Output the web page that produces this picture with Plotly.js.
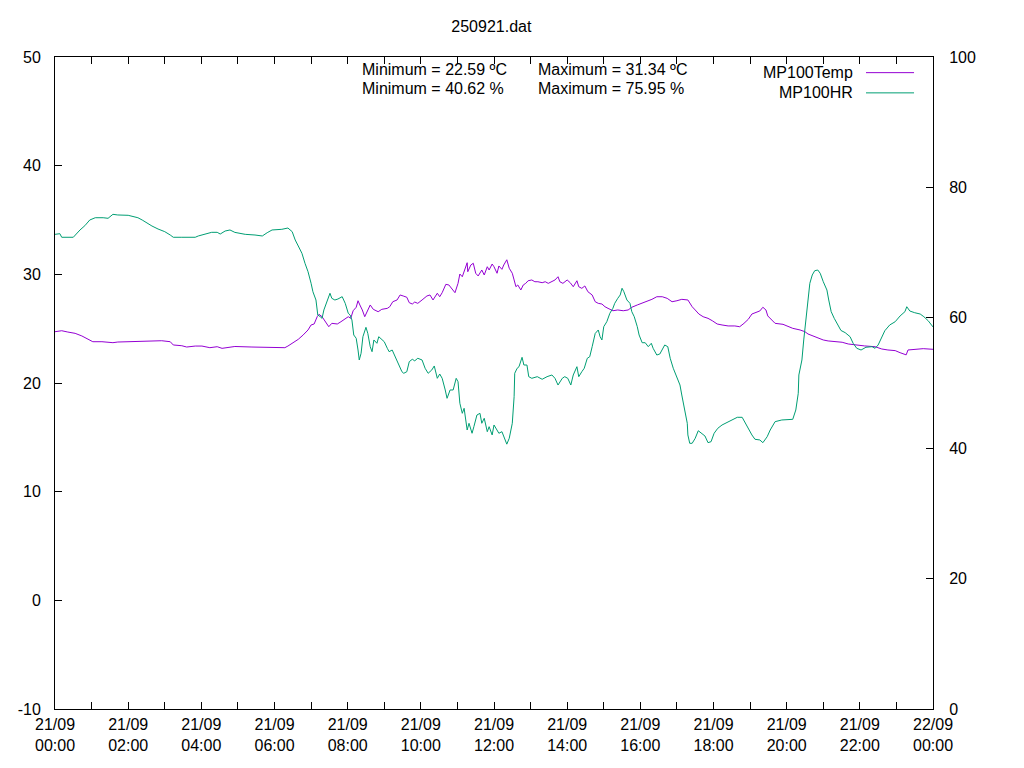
<!DOCTYPE html>
<html>
<head>
<meta charset="utf-8">
<script src="https://cdn.plot.ly/plotly-3.0.1.min.js"></script>
<style>html,body{margin:0;padding:0;background:#fff;}#chart{width:1024px;height:768px;}</style>
</head>
<body>
<div id="chart"></div>
<script>
// ---- data (minutes after 2025-09-21 00:00) ----
const chartTitle = "250921.dat";
const seriesNames = ["MP100Temp", "MP100HR"];
const statsLines = [
  ["Minimum = 22.59 \u00baC", "Maximum = 31.34 \u00baC"],
  ["Minimum = 40.62 %", "Maximum = 75.95 %"]
];

const tempMinutes = [0,11,21,33,44,54,62,77,95,103,143,161,175,189,194,208,216,230,241,254,266,274,284,295,323,349,377,382,390,399,407,415,420,425,430,433,438,443,449,454,463,469,476,481,485,489,494,497,500,504,508,513,517,522,530,536,545,549,554,561,566,571,577,581,586,590,595,602,610,615,620,627,631,635,641,646,651,656,661,664,668,672,676,677,682,686,690,694,700,704,709,712,717,720,725,728,733,736,741,745,750,753,756,759,764,768,772,776,782,787,792,799,804,809,815,820,825,828,833,840,845,850,856,859,864,869,874,881,886,891,897,902,907,915,923,932,940,946,955,963,971,979,987,996,1004,1012,1020,1028,1038,1045,1050,1056,1063,1071,1078,1086,1094,1104,1115,1123,1130,1137,1143,1151,1156,1161,1166,1169,1176,1181,1194,1202,1210,1222,1230,1235,1243,1251,1260,1268,1279,1291,1301,1312,1328,1345,1356,1366,1378,1386,1392,1396,1399,1410,1424,1440];
const tempValues = [24.72,24.81,24.69,24.57,24.33,24.05,23.80,23.80,23.71,23.77,23.84,23.93,23.89,23.80,23.50,23.43,23.31,23.40,23.40,23.25,23.34,23.19,23.28,23.36,23.31,23.25,23.25,23.40,23.71,24.02,24.42,24.88,25.34,25.43,26.10,26.32,26.10,25.64,25.18,25.49,25.43,25.64,25.95,26.10,25.95,26.65,26.97,27.57,27.18,26.72,26.10,26.72,27.18,26.78,26.56,26.78,26.87,27.02,27.48,27.64,28.10,28.01,27.89,27.39,27.27,27.45,27.33,27.64,28.01,28.10,27.64,28.26,27.94,28.31,29.08,29.02,28.71,28.31,29.17,30.03,29.78,30.40,31.07,30.24,30.86,31.02,30.10,29.85,30.40,29.94,30.70,30.40,30.95,30.70,30.10,30.77,30.46,30.86,31.34,30.56,30.10,29.48,28.86,29.02,28.56,29.02,29.17,29.41,29.48,29.32,29.32,29.23,29.32,29.17,29.32,29.48,29.78,29.32,29.17,29.48,29.23,28.86,29.41,28.86,28.71,28.93,28.40,28.10,27.48,27.33,27.27,27.02,26.87,26.65,26.72,26.65,26.72,26.97,27.18,27.33,27.48,27.70,27.94,27.94,27.79,27.48,27.57,27.70,27.64,27.02,26.72,26.35,26.10,25.95,25.73,25.43,25.34,25.25,25.25,25.18,25.49,25.86,26.35,26.56,26.63,26.97,26.72,26.17,25.80,25.49,25.40,25.25,25.03,24.88,24.72,24.51,24.32,24.11,23.96,23.87,23.80,23.75,23.59,23.50,23.41,23.34,23.13,23.04,22.98,22.79,22.64,22.59,23.04,23.10,23.16,23.10];

const hrMinutes = [0,8,11,30,41,49,57,66,79,87,95,103,120,128,136,143,151,159,169,180,189,194,208,230,235,246,257,266,271,279,287,295,312,328,340,348,356,372,382,389,394,399,405,410,415,420,423,428,431,435,438,441,446,451,454,459,464,471,476,481,484,487,490,494,497,499,502,505,510,513,517,520,523,528,531,536,540,545,548,553,558,563,569,572,577,581,586,590,595,602,607,612,618,622,627,631,635,640,643,648,653,658,661,664,668,671,676,679,684,687,692,697,700,704,709,712,717,720,725,728,733,736,741,745,748,750,753,754,758,761,766,769,774,777,782,791,799,807,815,820,825,832,836,841,846,850,856,859,864,868,873,877,881,886,891,894,897,900,905,910,915,918,923,927,930,933,938,943,946,950,955,958,963,968,973,978,981,987,992,997,1000,1005,1009,1014,1020,1025,1028,1032,1037,1038,1041,1045,1050,1055,1059,1066,1071,1076,1081,1087,1094,1102,1110,1119,1127,1132,1137,1143,1148,1156,1161,1168,1173,1181,1192,1202,1210,1215,1219,1220,1225,1228,1232,1235,1238,1242,1246,1251,1255,1260,1266,1269,1273,1278,1284,1289,1296,1304,1309,1315,1322,1330,1340,1345,1350,1356,1361,1369,1378,1386,1394,1397,1402,1410,1419,1425,1432,1440];
const hrValues = [72.80,72.90,72.35,72.35,73.47,74.13,75.00,75.35,75.35,75.26,75.87,75.77,75.72,75.51,75.35,75.00,74.49,74.08,73.62,73.21,72.70,72.35,72.35,72.35,72.55,72.81,73.11,73.11,72.85,73.31,73.47,73.10,72.80,72.70,72.55,73.05,73.47,73.57,73.77,73.21,71.93,71.01,69.89,68.36,67.07,65.29,64.00,62.73,60.43,60.17,59.92,61.20,62.47,63.76,62.99,62.73,62.88,63.24,62.22,60.69,60.43,59.66,57.36,56.86,55.06,53.53,54.56,57.10,58.54,57.62,55.57,54.80,56.60,56.09,57.10,56.60,56.33,55.32,54.80,55.06,54.03,53.02,51.73,51.49,51.73,53.27,53.64,53.40,53.79,53.53,52.26,51.49,52.00,52.61,50.72,51.38,50.72,48.93,47.65,48.93,48.93,50.72,50.20,46.89,45.35,46.12,42.79,43.82,42.29,43.30,45.09,45.35,43.82,44.59,42.53,43.30,42.03,43.56,42.79,42.29,42.53,41.76,40.62,41.52,42.79,43.82,47.90,51.49,52.26,52.50,53.94,52.76,52.76,50.97,50.72,50.97,50.57,50.97,51.23,50.72,49.69,50.72,50.97,50.72,49.69,51.23,52.50,50.97,51.73,52.26,53.79,54.03,55.57,57.60,58.13,57.10,56.60,58.64,59.40,60.69,61.46,62.22,62.99,63.50,64.53,64.00,62.73,62.22,60.94,60.17,58.64,57.36,56.18,56.18,55.57,56.09,55.32,54.29,54.45,55.32,55.83,55.57,53.79,52.26,50.97,49.69,48.16,46.12,43.82,42.03,40.75,40.75,41.52,42.68,42.38,41.87,40.85,41.00,42.29,43.05,43.56,43.91,44.33,44.74,44.74,43.82,43.05,42.03,41.37,41.26,40.85,41.76,42.79,44.07,44.33,44.33,44.43,45.86,48.42,51.23,53.53,56.60,60.17,63.24,65.29,66.57,67.22,67.33,66.83,65.54,64.26,62.73,60.94,59.92,58.90,58.06,57.72,57.10,56.09,55.32,55.06,55.48,55.57,55.32,55.83,57.01,58.02,58.90,59.40,60.28,60.94,61.70,61.04,60.78,60.58,60.17,59.56,58.60];

const leftTicks = [-10, 0, 10, 20, 30, 40, 50];
const rightTicks = [0, 20, 40, 60, 80, 100];
const seriesColors = ["#9400D3", "#009E73"];

// ---- helpers ----
function pad(n){ return (n < 10 ? "0" : "") + n; }
function toDate(min){
  const d = new Date(Date.UTC(2025, 8, 21, 0, 0, 0) + min * 60000);
  return d.getUTCFullYear() + "-" + pad(d.getUTCMonth()+1) + "-" + pad(d.getUTCDate()) + " " +
         pad(d.getUTCHours()) + ":" + pad(d.getUTCMinutes()) + ":00";
}

const traces = [
  {x: tempMinutes.map(toDate), y: tempValues, name: seriesNames[0], type: "scatter", mode: "lines",
   line: {color: seriesColors[0], width: 1}, yaxis: "y", hoverinfo: "x+y"},
  {x: hrMinutes.map(toDate), y: hrValues, name: seriesNames[1], type: "scatter", mode: "lines",
   line: {color: seriesColors[1], width: 1}, yaxis: "y2", hoverinfo: "x+y"}
];

const FONT = "Liberation Sans, Arial, sans-serif";
const annotations = [];
const shapes = [];
// stats text
const statX = [0.3474, 0.5478];
const statY = [0.981, 0.951];
for (let r = 0; r < 2; r++) for (let c = 0; c < 2; c++) {
  annotations.push({text: statsLines[r][c], xref: "paper", yref: "paper", x: statX[c], y: statY[r],
    xanchor: "left", yanchor: "middle", showarrow: false, font: {family: FONT, size: 16, color: "#000"}});
}
// custom gnuplot-style legend (text left, sample right)
const legY = [0.976, 0.945];
for (let i = 0; i < 2; i++) {
  annotations.push({text: seriesNames[i], xref: "paper", yref: "paper", x: 0.9112, y: legY[i],
    xanchor: "right", yanchor: "middle", showarrow: false, font: {family: FONT, size: 16, color: "#000"}});
  shapes.push({type: "line", xref: "paper", yref: "paper", x0: 0.9237, x1: 0.9784, y0: legY[i], y1: legY[i],
    line: {color: seriesColors[i], width: 1}});
}

const layout = {
  width: 1024, height: 768,
  margin: {l: 55, r: 91, t: 57, b: 59},
  paper_bgcolor: "#fff", plot_bgcolor: "#fff",
  showlegend: false,
  font: {family: FONT, size: 16, color: "#000"},
  title: {text: chartTitle, x: 0.497, xref: "paper", y: 1 - 26/768, yref: "container", yanchor: "middle",
          font: {family: FONT, size: 16, color: "#000"}},
  xaxis: {
    type: "date",
    range: [toDate(0), toDate(1440)],
    tick0: toDate(0), dtick: 7200000,
    tickformat: "%d/%m<br>%H:%M",
    ticks: "inside", ticklen: 7, tickcolor: "#000", tickwidth: 1,
    minor: {dtick: 3600000, ticks: "inside", ticklen: 4, tickcolor: "#000", showgrid: false},
    showline: true, linecolor: "#000", linewidth: 1, mirror: "allticks",
    showgrid: false, zeroline: false,
    ticklabelstandoff: 1,
    tickfont: {family: FONT, size: 16, color: "#000"}
  },
  yaxis: {
    range: [-10, 50], tickvals: leftTicks, ticktext: leftTicks.map(String),
    ticks: "inside", ticklen: 7, tickcolor: "#000",
    showline: true, linecolor: "#000", linewidth: 1, mirror: false,
    showgrid: false, zeroline: false, ticklabelstandoff: 10,
    tickfont: {family: FONT, size: 16, color: "#000"}
  },
  yaxis2: {
    range: [0, 100], tickvals: rightTicks, ticktext: rightTicks.map(String),
    overlaying: "y", side: "right",
    ticks: "inside", ticklen: 7, tickcolor: "#000",
    showline: true, linecolor: "#000", linewidth: 1,
    showgrid: false, zeroline: false, ticklabelstandoff: 12,
    tickfont: {family: FONT, size: 16, color: "#000"}
  },
  annotations: annotations,
  shapes: shapes
};

Plotly.newPlot("chart", traces, layout, {displayModeBar: false, staticPlot: true});
</script>
</body>
</html>
